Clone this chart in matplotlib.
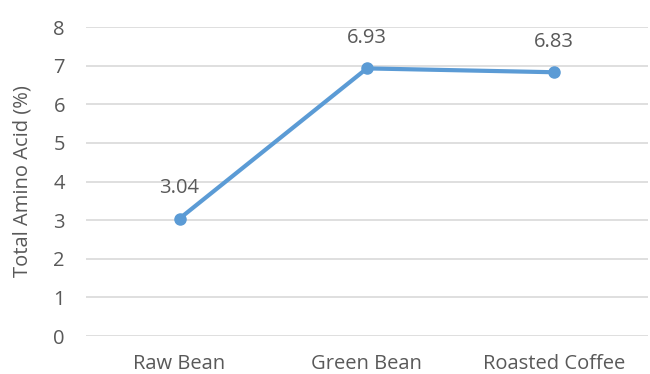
import matplotlib.pyplot as plt

categories = ["Raw Bean", "Green Bean", "Roasted Coffee"]
values = [3.04, 6.93, 6.83]
yticks = [0, 1, 2, 3, 4, 5, 6, 7, 8]

plt.rcParams['font.family'] = ['Open Sans', 'DejaVu Sans']
text_color = '#595959'
line_color = '#5B9BD5'

fig = plt.figure(figsize=(6.5, 3.74), dpi=100)
ax = fig.add_axes([0.132, 0.1016, 0.865, 0.826])

x = list(range(len(categories)))
ax.plot(x, values, color=line_color, linewidth=3, marker='o', markersize=8, zorder=3)

for xi, v in zip(x, values):
    ax.annotate(f"{v:.2f}", (xi, v), xytext=(0, 22), textcoords='offset points',
                ha='center', va='center', fontsize=14.5, color=text_color)

ax.set_xlim(-0.5, len(categories) - 0.5)
ax.set_ylim(0, 8)
ax.set_yticks(yticks)
ax.set_xticks(x)
ax.set_xticklabels(categories)
ax.tick_params(axis='both', length=0, labelsize=14.5, colors=text_color)
ax.tick_params(axis='y', pad=15)
ax.tick_params(axis='x', pad=13)
ax.grid(axis='y', color='#D9D9D9', linewidth=1.2)
ax.set_axisbelow(True)
for s in ax.spines.values():
    s.set_visible(False)
ax.set_ylabel("Total Amino Acid (%)", fontsize=14.5, color=text_color)
ax.yaxis.set_label_coords(-0.094, 0.5)

fig.savefig("out.png", dpi=100)
